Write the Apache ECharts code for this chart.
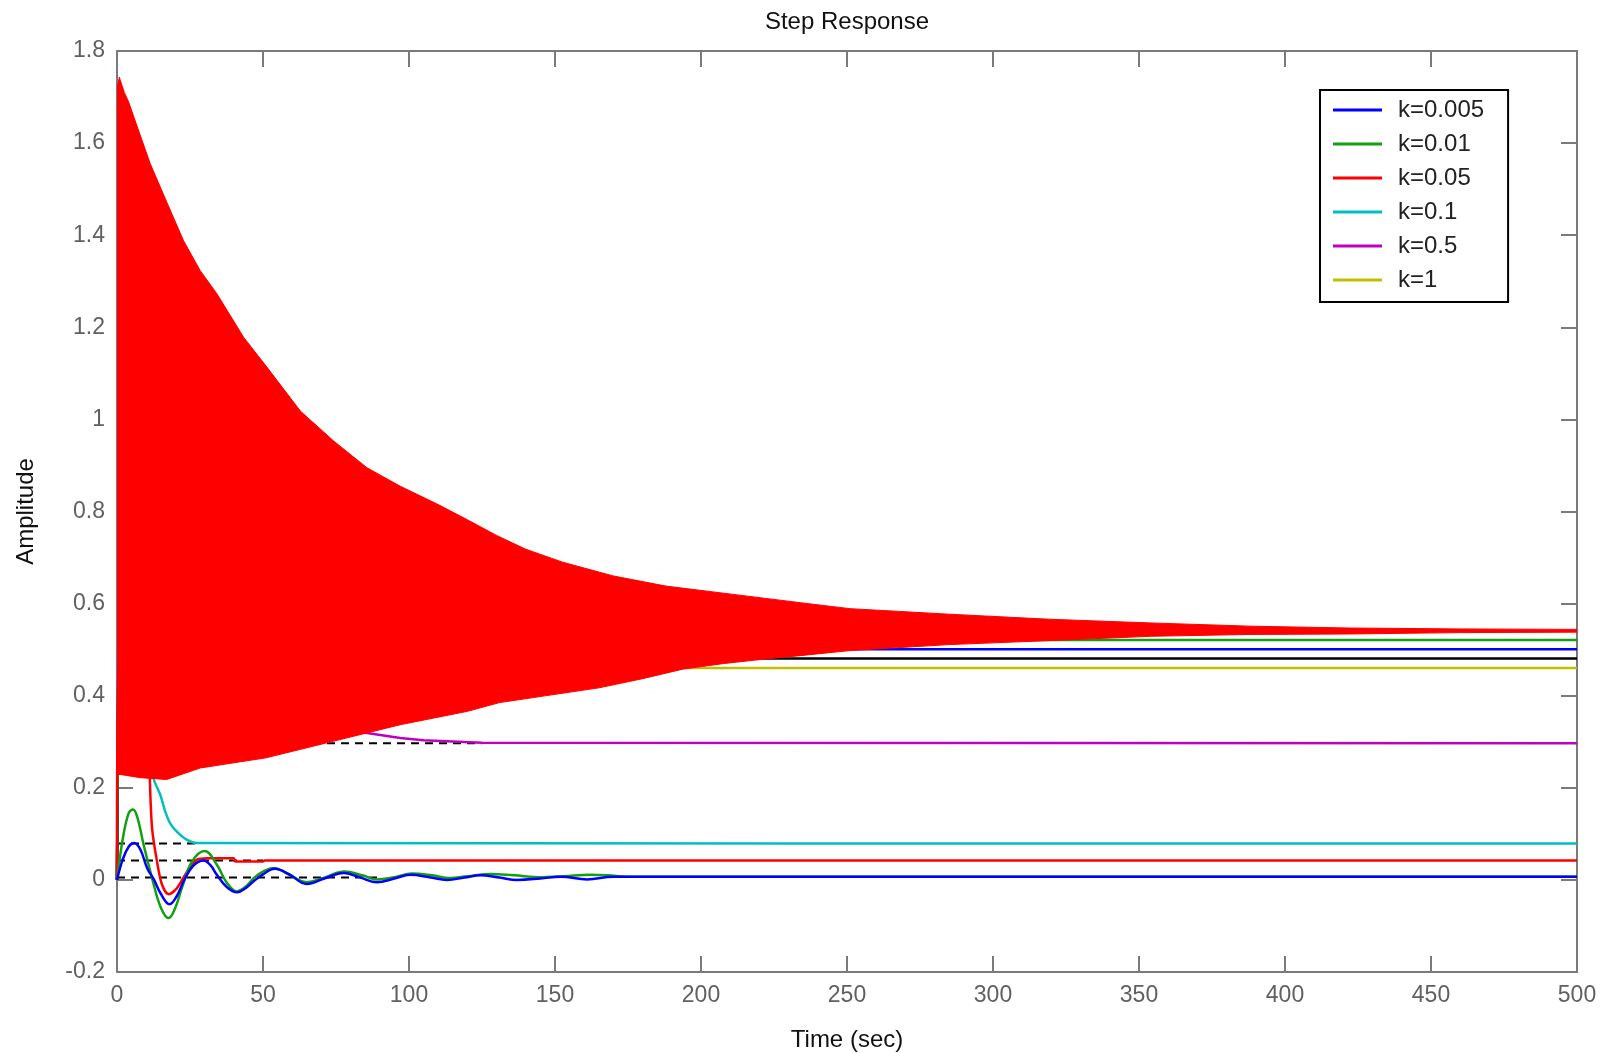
<!DOCTYPE html>
<html>
<head>
<meta charset="utf-8">
<title>Step Response</title>
<script src="https://cdn.jsdelivr.net/npm/echarts@6/dist/echarts.min.js"></script>
<style>
  html, body { margin: 0; padding: 0; background: #fff; }
  #chart { width: 1613px; height: 1053px; }
</style>
</head>
<body>
<div id="chart"></div>
<script>
// Axis ticks
const xTicks = [0, 50, 100, 150, 200, 250, 300, 350, 400, 450, 500];
const yTickLabels = ['-0.2', '0', '0.2', '0.4', '0.6', '0.8', '1', '1.2', '1.4', '1.6', '1.8'];
const yMin = -0.2, yMax = 1.8, yStep = 0.2;

// Legend entries
const legendNames = ['k=0.005', 'k=0.01', 'k=0.05', 'k=0.1', 'k=0.5', 'k=1'];

// Step responses [time, amplitude]
const respK0005 = [[0,0],[2,0.045],[4,0.072],[5.9,0.08],[8,0.066],[10.3,0.026],[12.7,0],[15,-0.03],[18,-0.053],[20.5,-0.035],[22.8,-0.003],[26,0.03],[29.7,0.042],[32,0.032],[34.2,0.011],[37.5,-0.015],[41.1,-0.027],[44,-0.018],[46.8,-0.003],[50,0.012],[54,0.024],[59,0.012],[65,-0.009],[71,0.003],[77.6,0.015],[83,0.006],[89,-0.005],[95,0.003],[100.4,0.011],[107,0.006],[113,0],[119,0.005],[124.4,0.01],[131,0.005],[137,0],[145,0.003],[152,0.007],[161,0.001],[170,0.007],[500,0.007]];
const respK001 = [[0,0],[2,0.09],[4,0.145],[5.5,0.153],[7,0.135],[9.1,0.077],[12,0.004],[15,-0.06],[17.7,-0.083],[20,-0.06],[22.2,-0.018],[25.7,0.04],[30,0.063],[34.2,0.033],[37.5,-0.005],[41,-0.025],[44,-0.015],[47,0.005],[50,0.018],[53.6,0.026],[58,0.015],[65,-0.005],[71,0.005],[78,0.018],[84,0.01],[89,0.001],[95,0.006],[101,0.014],[108,0.01],[114,0.004],[120,0.008],[128,0.013],[136,0.01],[145,0.006],[153,0.008],[162,0.011],[168,0.01],[175,0.007],[500,0.007]];
const respK005 = [[0,0],[0.5,0.5],[10.3,0.5],[11.2,0.23],[12,0.113],[13.7,0.04],[15.4,-0.01],[17.7,-0.031],[20.5,-0.018],[24,0.018],[27.4,0.044],[30.8,0.047],[40,0.047],[40.5,0.04],[50,0.04],[50.5,0.042],[500,0.042]];
const respK01 = [[0,0],[0.5,0.5],[8.6,0.45],[11.5,0.29],[12.5,0.221],[14.8,0.185],[16.5,0.149],[18.2,0.123],[20.5,0.105],[24,0.087],[27.4,0.08],[500,0.079]];
const respK05 = [[0,0],[0.5,0.6],[22.2,0.573],[24,0.558],[36.4,0.45],[40,0.436],[49,0.392],[54,0.37],[62.7,0.351],[67,0.339],[75,0.33],[85.6,0.319],[97,0.308],[105,0.303],[125,0.298],[500,0.297]];
const respK1 = [[0,0],[0.5,0.46],[500,0.46]];

// Second run of the loop (colour order continues), settled levels
const respRunB_k = [[0,0],[0.5,0.481],[500,0.481]];
const respRunB_b = [[0,0],[0.5,0.501],[500,0.501]];
const respRunB_g = [[0,0],[0.5,0.521],[500,0.521]];

// Fast oscillating response: upper and lower envelope
const bandUpper = [[0,1.72],[0.8,1.743],[2.5,1.71],[4,1.689],[6.8,1.638],[11.4,1.555],[17.1,1.471],[22.8,1.388],[28.5,1.323],[34.2,1.273],[43.4,1.178],[51.4,1.113],[62.8,1.018],[74.2,0.953],[85.6,0.895],[97,0.855],[110,0.815],[120,0.782],[130,0.748],[140,0.718],[152.6,0.69],[170,0.66],[188,0.638],[211,0.62],[234,0.602],[251,0.589],[268,0.583],[285,0.577],[319.5,0.566],[354,0.558],[388,0.551],[422,0.547],[460,0.545],[500,0.544]];
const bandLower = [[0,0.229],[1.1,0.229],[8,0.222],[17,0.218],[28.5,0.243],[51,0.265],[74,0.301],[97,0.337],[120,0.366],[131,0.385],[165,0.417],[180,0.437],[194,0.458],[208,0.47],[221,0.479],[234,0.487],[251,0.498],[285,0.511],[313,0.518],[354,0.529],[388,0.533],[422,0.534],[460,0.537],[500,0.538]];

// Steady-state guide lines
const ssK05 = [[0,0.297],[125,0.297]];
const ssK01 = [[0,0.079],[27,0.079]];
const ssK005 = [[0,0.042],[50,0.042]];
const ssK0005 = [[0,0.005],[90,0.005]];

const C = {
  blue: '#0000ff', green: '#12a012', red: '#ff0000', cyan: '#00bfbf',
  magenta: '#bf00bf', yellow: '#bfbf00', black: '#000000'
};
const axisGray = '#7a7a7a';
const FONT = 'Liberation Sans, Arial, sans-serif';

function lineSeries(name, data, color, z, smooth) {
  return {
    name: name, type: 'line', data: data, z: z, smooth: smooth || false,
    showSymbol: false, symbol: 'none', animation: false, silent: true,
    lineStyle: { color: color, width: 2.5 }, itemStyle: { color: color }
  };
}
function dashSeries(data) {
  return {
    type: 'line', data: data, z: 1, showSymbol: false, symbol: 'none',
    animation: false, silent: true,
    lineStyle: { color: C.black, width: 2, type: [8, 6] }
  };
}

const axisCommon = {
  type: 'value',
  axisLine: { show: true, onZero: false, lineStyle: { color: axisGray, width: 2 } },
  axisTick: { show: true, inside: true, length: 16, lineStyle: { color: axisGray, width: 2 } },
  splitLine: { show: false }
};

const chart = echarts.init(document.getElementById('chart'), null, { renderer: 'canvas' });
chart.setOption({
  backgroundColor: '#ffffff',
  animation: false,
  textStyle: { fontFamily: FONT },
  title: {
    text: 'Step Response', left: 842, top: 5, textAlign: 'center',
    textStyle: { fontFamily: FONT, fontSize: 24, fontWeight: 'normal', color: '#111' }
  },
  grid: { left: 117, top: 51, width: 1460, height: 921, containLabel: false, outerBoundsMode: 'none' },
  legend: {
    data: legendNames, orient: 'vertical', left: 1320, top: 90,
    icon: 'rect', itemWidth: 49, itemHeight: 3, itemGap: 10,
    padding: [8, 24, 10, 13],
    borderColor: '#000', borderWidth: 2, backgroundColor: '#fff',
    textStyle: { fontFamily: FONT, fontSize: 24, color: '#222', lineHeight: 24, padding: [0, 0, 0, 11] },
    selectedMode: false, z: 20
  },
  xAxis: [
    Object.assign({}, axisCommon, {
      position: 'bottom', min: xTicks[0], max: xTicks[xTicks.length - 1], interval: xTicks[1] - xTicks[0],
      name: 'Time (sec)', nameLocation: 'middle', nameGap: 56,
      nameTextStyle: { fontFamily: FONT, fontSize: 24, color: '#111' },
      axisLabel: { fontFamily: FONT, fontSize: 23, color: '#606060', margin: 12 }
    }),
    Object.assign({}, axisCommon, {
      position: 'top', min: xTicks[0], max: xTicks[xTicks.length - 1], interval: xTicks[1] - xTicks[0],
      axisLabel: { show: false }
    })
  ],
  yAxis: [
    Object.assign({}, axisCommon, {
      position: 'left', min: yMin, max: yMax, interval: yStep,
      name: 'Amplitude', nameLocation: 'middle', nameGap: 79,
      nameTextStyle: { fontFamily: FONT, fontSize: 24, color: '#111' },
      axisLabel: {
        fontFamily: FONT, fontSize: 23, color: '#606060', margin: 12,
        formatter: v => yTickLabels[Math.round((v - yMin) / yStep)]
      }
    }),
    Object.assign({}, axisCommon, {
      position: 'right', min: yMin, max: yMax, interval: yStep,
      axisLabel: { show: false }
    })
  ],
  series: [
    dashSeries(ssK05), dashSeries(ssK01), dashSeries(ssK005), dashSeries(ssK0005),
    lineSeries('k=0.5', respK05, C.magenta, 2),
    lineSeries('k=0.1', respK01, C.cyan, 2, 0.3),
    lineSeries('k=1', respK1, C.yellow, 2),
    lineSeries('runB_k', respRunB_k, C.black, 2),
    lineSeries('runB_b', respRunB_b, C.blue, 2),
    lineSeries('runB_g', respRunB_g, C.green, 2),
    lineSeries('k=0.05', respK005, C.red, 2, 0.3),
    {
      name: 'runB_r', type: 'custom', z: 3, silent: true, animation: false,
      data: [[0, 0]], encode: { x: 0, y: 1 }, clip: true,
      renderItem: function (params, api) {
        const pts = bandUpper.map(p => api.coord(p))
          .concat(bandLower.slice().reverse().map(p => api.coord(p)));
        return {
          type: 'polygon', shape: { points: pts },
          style: { fill: C.red, stroke: C.red, lineWidth: 1 }
        };
      }
    },
    lineSeries('k=0.01', respK001, C.green, 4, 0.4),
    lineSeries('k=0.005', respK0005, C.blue, 5, 0.4)
  ]
});
</script>
</body>
</html>
